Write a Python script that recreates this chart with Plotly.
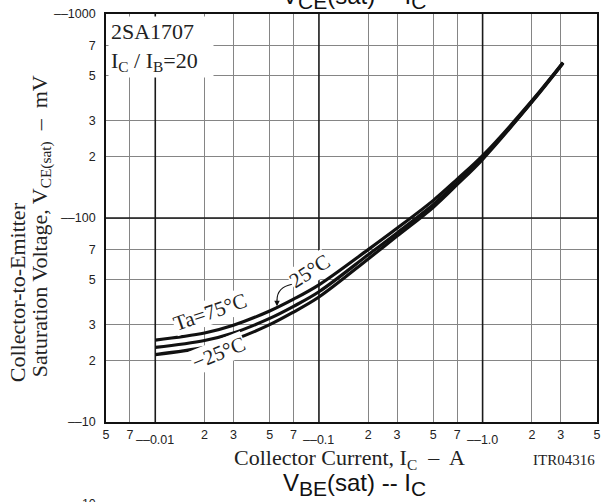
import numpy as np
import plotly.graph_objects as go

# ---- data ----
ic = [0.01, 0.02, 0.03, 0.05, 0.07, 0.1, 0.2, 0.3, 0.5, 0.7, 1.0, 2.0, 3.1]
v_75 = [25.2, 27.3, 29.8, 35.0, 40.0, 47.0, 70.0, 89.0, 122, 155, 202, 375, 578]
v_25 = [23.2, 25.1, 27.3, 32.2, 36.9, 43.5, 66.0, 84.5, 116.5, 149, 197, 372, 576]
v_m25 = [21.4, 23.2, 25.3, 30.0, 34.6, 41.0, 63.0, 81.5, 113, 146, 194, 370, 574]

x_ticks = [0.005, 0.007, 0.02, 0.03, 0.05, 0.07, 0.2, 0.3, 0.5, 0.7, 2, 3, 5]
x_ticktext = ["5", "7", "2", "3", "5", "7", "2", "3", "5", "7", "2", "3", "5"]
x_decades = [0.01, 0.1, 1.0]
x_decade_text = ["––0.01", "––0.1", "––1.0"]

y_ticks = [10, 20, 30, 50, 70, 100, 200, 300, 500, 700, 1000]
y_ticktext = ["––10", "2", "3", "5", "7", "––100", "2", "3", "5", "7", "––1000"]
y_decades = [100]

X_RANGE = [0.005, 5]
Y_RANGE = [10, 1000]

SERIF = "Liberation Serif, Times New Roman, serif"
SANS = "Liberation Sans, Arial, sans-serif"
TXT = "#222222"

fig = go.Figure()

# major (decade) grid lines drawn darker
for d in x_decades:
    fig.add_trace(go.Scatter(x=[d, d], y=Y_RANGE, mode="lines",
                             line=dict(color="#1a1a1a", width=1.6),
                             hoverinfo="skip", showlegend=False))
for d in y_decades:
    fig.add_trace(go.Scatter(x=X_RANGE, y=[d, d], mode="lines",
                             line=dict(color="#1a1a1a", width=1.6),
                             hoverinfo="skip", showlegend=False))

for ys in (v_75, v_25, v_m25):
    fig.add_trace(go.Scatter(x=ic, y=ys, mode="lines",
                             line=dict(color="#111111", width=3.2, shape="spline", smoothing=1.0),
                             hoverinfo="skip", showlegend=False))

fig.update_xaxes(type="log", range=[np.log10(X_RANGE[0]), np.log10(X_RANGE[1])],
                 tickmode="array", tickvals=x_ticks, ticktext=x_ticktext,
                 showgrid=True, gridcolor="#858585", gridwidth=1.2,
                 showline=True, mirror=True, linecolor="#111111", linewidth=1.6,
                 ticks="", zeroline=False,
                 tickfont=dict(family=SANS, size=12.5, color=TXT))
fig.update_yaxes(type="log", range=[np.log10(Y_RANGE[0]), np.log10(Y_RANGE[1])],
                 tickmode="array", tickvals=y_ticks, ticktext=y_ticktext,
                 showgrid=True, gridcolor="#858585", gridwidth=1.2,
                 showline=True, mirror=True, linecolor="#111111", linewidth=1.6,
                 ticks="", zeroline=False, ticklabelstandoff=6,
                 tickfont=dict(family=SANS, size=12.5, color=TXT))

ann = []
# decade tick labels (set lower than the others)
for d, t in zip(x_decades, x_decade_text):
    ann.append(dict(x=np.log10(d), y=0, xref="x", yref="paper", text=t, showarrow=False,
                    xanchor="center", yanchor="top", yshift=-9,
                    font=dict(family=SANS, size=12.5, color=TXT)))

# part number box
ann.append(dict(x=0, y=1, xref="paper", yref="paper", xanchor="left", yanchor="top",
                xshift=2, yshift=-2,
                text="2SA1707<br>I<sub>C</sub> / I<sub>B</sub>=20", align="left",
                showarrow=False, bgcolor="white", borderpad=2, width=100,
                font=dict(family=SERIF, size=22, color=TXT)))

# curve labels
ann.append(dict(x=np.log10(0.0216), y=np.log10(34.8), xref="x", yref="y",
                text="Ta=75°C", textangle=-19, showarrow=False, bgcolor="white", borderpad=0,
                font=dict(family=SERIF, size=21, color=TXT)))
ann.append(dict(x=np.log10(0.0245), y=np.log10(21.8), xref="x", yref="y",
                text="−25°C", textangle=-22, showarrow=False, bgcolor="white", borderpad=0,
                font=dict(family=SERIF, size=21, color=TXT)))
ann.append(dict(x=np.log10(0.088), y=np.log10(55.0), xref="x", yref="y",
                text="25°C", textangle=-33, showarrow=False, bgcolor="white", borderpad=0,
                font=dict(family=SERIF, size=21, color=TXT)))

def px2paper(px, py):
    return (px - 106) / 491.0, (421.7 - py) / 407.7

# curved arrow from "25°C" label to its curve
sx, sy = px2paper(292, 284)
cx, cy = px2paper(277, 287)
ex, ey = px2paper(277, 300)
shapes = [dict(type="path", xref="paper", yref="paper",
               path=f"M {sx},{sy} Q {cx},{cy} {ex},{ey}",
               line=dict(color="#111111", width=1.1))]
tx, ty = px2paper(277, 306)
ann.append(dict(x=tx, y=ty, xref="paper", yref="paper", text="", showarrow=True,
                ax=0, ay=-8, arrowhead=2, arrowsize=1, arrowwidth=1.1, arrowcolor="#111111"))

# axis titles
ann.append(dict(x=0.5, y=0, xref="paper", yref="paper", xanchor="center", yanchor="top",
                xshift=-2, yshift=-21,
                text="Collector Current, I<sub>C</sub>  –  A", showarrow=False,
                font=dict(family=SERIF, size=22, color=TXT)))
ann.append(dict(x=1, y=0, xref="paper", yref="paper", xanchor="right", yanchor="top",
                yshift=-28, text="ITR04316", showarrow=False,
                font=dict(family=SERIF, size=15, color=TXT)))
lx1, ly1 = px2paper(17, 292)
ann.append(dict(x=lx1, y=ly1, xref="paper", yref="paper", xanchor="center", yanchor="middle",
                text="Collector-to-Emitter", textangle=-90, showarrow=False,
                font=dict(family=SERIF, size=22, color=TXT)))
lx2, ly2 = px2paper(41, 226)
ann.append(dict(x=lx2, y=ly2, xref="paper", yref="paper", xanchor="center", yanchor="middle",
                text="Saturation Voltage, V<sub>CE(sat)</sub>  –  mV", textangle=-90, showarrow=False,
                font=dict(family=SERIF, size=22, color=TXT)))

# chart titles (top one cut off by the page edge, bottom one belongs to next chart)
SUBSPAN = "<span style='font-size:21px'>"
title_top = f"V<sub>{SUBSPAN}CE</span></sub>(sat) -- I<sub>{SUBSPAN}C</span></sub>"
title_bot = f"V<sub>{SUBSPAN}BE</span></sub>(sat) -- I<sub>{SUBSPAN}C</span></sub>"
t1x, t1y = px2paper(354, -2)
ann.append(dict(x=t1x, y=t1y, xref="paper", yref="paper", xanchor="center", yanchor="middle",
                text=title_top, showarrow=False,
                font=dict(family=SANS, size=24, color="#111111")))
t2x, t2y = px2paper(354, 484)
ann.append(dict(x=t2x, y=t2y, xref="paper", yref="paper", xanchor="center", yanchor="middle",
                text=title_bot, showarrow=False,
                font=dict(family=SANS, size=24, color="#111111")))
t3x, t3y = px2paper(98, 504)
ann.append(dict(x=t3x, y=t3y, xref="paper", yref="paper", xanchor="right", yanchor="middle",
                text="––10", showarrow=False,
                font=dict(family=SANS, size=12.5, color=TXT)))

fig.update_layout(width=605, height=502,
                  margin=dict(l=106, r=8, t=14, b=80, autoexpand=False),
                  paper_bgcolor="white", plot_bgcolor="white",
                  showlegend=False, annotations=ann, shapes=shapes)

fig.write_html("out.html", config={"displayModeBar": False},
               post_script="document.body.style.margin='0px';")
